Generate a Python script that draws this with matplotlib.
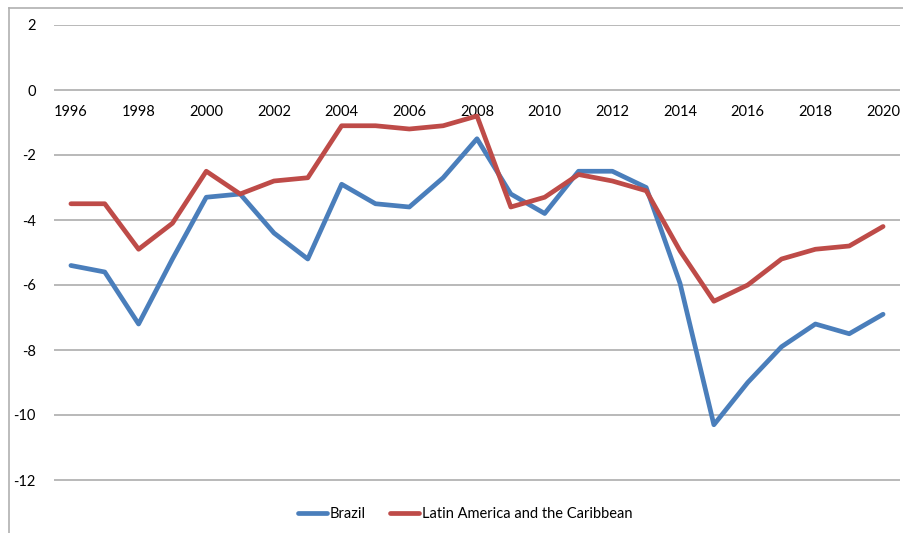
import matplotlib
matplotlib.use("Agg")
import matplotlib.pyplot as plt
from matplotlib.lines import Line2D

years = list(range(1996, 2021))
brazil = [-5.4, -5.6, -7.2, -5.2, -3.3, -3.2, -4.4, -5.2, -2.9, -3.5, -3.6, -2.7, -1.5,
          -3.2, -3.8, -2.5, -2.5, -3.0, -5.95, -10.3, -9.0, -7.9, -7.2, -7.5, -6.9]
latam = [-3.5, -3.5, -4.9, -4.1, -2.5, -3.2, -2.8, -2.7, -1.1, -1.1, -1.2, -1.1, -0.8,
         -3.6, -3.3, -2.6, -2.8, -3.1, -4.95, -6.5, -6.0, -5.2, -4.9, -4.8, -4.2]
year_ticks = list(range(1996, 2021, 2))
value_ticks = list(range(-12, 3, 2))

plt.rcParams['font.family'] = ['Lato', 'DejaVu Sans']

W, H = 904, 533
fig = plt.figure(figsize=(W / 100, H / 100), dpi=100)
ax = fig.add_axes([54 / W, (H - 512.5) / H, (900 - 54) / W, (512.5 - 25) / H])

ax.plot(years, brazil, color='#4A7EBB', lw=3.4, solid_joinstyle='round',
        solid_capstyle='round', label='Brazil', zorder=3)
ax.plot(years, latam, color='#BE4B48', lw=3.4, solid_joinstyle='round',
        solid_capstyle='round', label='Latin America and the Caribbean', zorder=3)

ax.set_xlim(1995.5, 2020.5)
ax.set_ylim(-13, 2)
ax.set_yticks(value_ticks)
ax.set_yticklabels([str(v) for v in value_ticks])
ax.set_xticks(year_ticks)
ax.set_xticklabels([str(y) for y in year_ticks])

ax.grid(axis='y', color='#A6A6A6', lw=1.1)
ax.set_axisbelow(True)
for s in ['top', 'right', 'left']:
    ax.spines[s].set_visible(False)
ax.spines['bottom'].set_position(('data', 0))
ax.spines['bottom'].set_visible(False)
ax.tick_params(axis='x', length=0, pad=11, labelsize=10.5, colors='#000000')
ax.tick_params(axis='y', length=0, pad=13, labelsize=10.5)

fig.legend(loc='lower center', bbox_to_anchor=(0.5 + 13 / W, -0.003), ncol=2, frameon=False,
           fontsize=10.5, handlelength=2.0, handletextpad=0.15, columnspacing=1.7)

# chart frame
fig.add_artist(Line2D([9 / W, 9 / W], [0, (H - 8) / H], color='#B0B0B0', lw=1.2,
                      transform=fig.transFigure))
fig.add_artist(Line2D([9 / W, 1], [(H - 8) / H, (H - 8) / H], color='#B0B0B0', lw=1.2,
                      transform=fig.transFigure))

fig.savefig('out.png', dpi=100)
